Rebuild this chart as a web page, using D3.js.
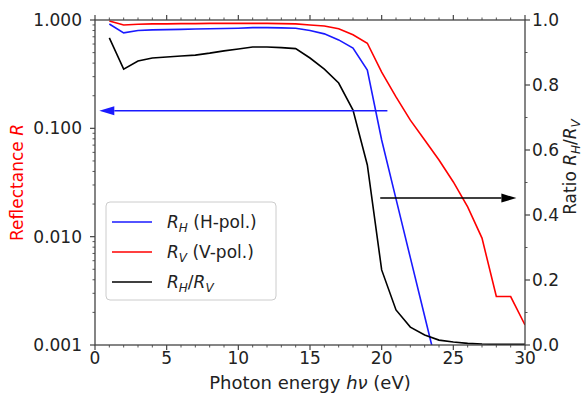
<!DOCTYPE html>
<html>
<head>
<meta charset="utf-8">
<script src="https://cdn.jsdelivr.net/npm/d3@7"></script>
<style>
  body { margin: 0; background: #fff; }
  text { font-family: "DejaVu Sans", sans-serif; }
</style>
</head>
<body>
<svg id="chart" width="584" height="394"></svg>
<script>
// photon energies (eV)
const energy = [1, 2, 3, 4, 5, 6, 7, 8, 9, 10, 11, 12, 13, 14, 15,
  16, 17, 18, 19, 20, 21, 22, 23, 24, 25, 26, 27, 28, 29, 30];

// V-polarised reflectance
const rV = [0.98, 0.90, 0.915, 0.92, 0.92, 0.925, 0.925, 0.93, 0.93, 0.93,
  0.93, 0.93, 0.925, 0.92, 0.90, 0.88, 0.83, 0.73, 0.61, 0.33,
  0.195, 0.119, 0.078, 0.051, 0.032, 0.0188, 0.0097, 0.0028, 0.0028, 0.00153];

// H-polarised reflectance (falls below the axis after 24 eV)
const rH = [0.918, 0.76, 0.80, 0.81, 0.815, 0.82, 0.825, 0.83, 0.835, 0.84,
  0.85, 0.85, 0.845, 0.84, 0.80, 0.745, 0.655, 0.55, 0.345, 0.078,
  0.0223, 0.0064, 0.00184, 0.00053, null, null, null, null, null, null];

// ratio R_H / R_V (right axis)
const ratio = [0.945, 0.849, 0.874, 0.883, 0.886, 0.889, 0.892, 0.898, 0.905, 0.911,
  0.917, 0.917, 0.915, 0.912, 0.883, 0.849, 0.806, 0.723, 0.554, 0.231,
  0.108, 0.055, 0.031, 0.015, 0.009, 0.005, 0.003, 0.002, 0.002, 0.002];

const xTicks = [0, 5, 10, 15, 20, 25, 30];
const yLeftTicks = [1, 0.1, 0.01, 0.001];
const yRightTicks = [0, 0.2, 0.4, 0.6, 0.8, 1.0];

// arrow annotations: [energy, value]
const leftArrow = { from: [20.4, 0.145], to: [0.3, 0.145] };
const rightArrow = { from: [19.9, 0.452], to: [29.4, 0.452] };

const W = 584, H = 394;
const margin = { top: 20, right: 59, bottom: 49, left: 95 };
const iw = W - margin.left - margin.right;
const ih = H - margin.top - margin.bottom;

const svg = d3.select('#chart');
const g = svg.append('g').attr('transform', `translate(${margin.left},${margin.top})`);

const x = d3.scaleLinear().domain([0, 30]).range([0, iw]);
const yL = d3.scaleLog().domain([0.001, 1]).range([ih, 0]);
const yR = d3.scaleLinear().domain([0, 1]).range([ih, 0]);

g.append('clipPath').attr('id', 'clip')
  .append('rect').attr('width', iw).attr('height', ih);

// lines
const plot = g.append('g').attr('clip-path', 'url(#clip)');
const lineL = vals => d3.line()
  .defined((d, i) => vals[i] != null)
  .x((d, i) => x(energy[i]))
  .y((d, i) => yL(vals[i]))(vals);

plot.append('path').attr('d', lineL(rV))
  .attr('fill', 'none').attr('stroke', '#ff0000').attr('stroke-width', 1.6);
plot.append('path').attr('d', lineL(rH))
  .attr('fill', 'none').attr('stroke', '#1a1aff').attr('stroke-width', 1.6);
plot.append('path')
  .attr('d', d3.line().x((d, i) => x(energy[i])).y(d => yR(d))(ratio))
  .attr('fill', 'none').attr('stroke', '#000').attr('stroke-width', 1.6);

// arrows
function arrow(a, yScale, color) {
  const x1 = x(a.from[0]), y1 = yScale(a.from[1]);
  const x2 = x(a.to[0]), y2 = yScale(a.to[1]);
  const dir = Math.sign(x2 - x1);
  const hl = 15, hw = 4.5;
  g.append('line')
    .attr('x1', x1).attr('y1', y1).attr('x2', x2 - dir * hl).attr('y2', y2)
    .attr('stroke', color).attr('stroke-width', 1.5);
  g.append('path')
    .attr('d', `M${x2},${y2}L${x2 - dir * hl},${y2 - hw}L${x2 - dir * hl},${y2 + hw}Z`)
    .attr('fill', color);
}
arrow(leftArrow, yL, '#1a1aff');
arrow(rightArrow, yR, '#000');

// axes
const axisColor = '#444';
const fs = '17px';

// frame
g.append('rect').attr('width', iw).attr('height', ih)
  .attr('fill', 'none').attr('stroke', axisColor).attr('stroke-width', 1.3);

function ticks(list, pos, len) {
  list.forEach(t => {
    const p = pos(t);
    g.append('line').attr('x1', p[0]).attr('y1', p[1]).attr('x2', p[2]).attr('y2', p[3])
      .attr('stroke', axisColor).attr('stroke-width', len);
  });
}

// x ticks bottom and top
const xMinor = energy.filter(e => e % 5 !== 0);
ticks(xTicks, t => [x(t), ih, x(t), ih + 5], 1.2);
ticks(xMinor, t => [x(t), ih, x(t), ih + 2.5], 0.9);
ticks(xTicks, t => [x(t), 0, x(t), -5], 1.2);
ticks(xMinor, t => [x(t), 0, x(t), -2.5], 0.9);

g.selectAll('.xl').data(xTicks).enter().append('text')
  .attr('x', d => x(d)).attr('y', ih + 19)
  .attr('text-anchor', 'middle').style('font-size', fs).attr('fill', '#222')
  .text(d => d);

// left log ticks
const yMinor = [];
[0.001, 0.01, 0.1].forEach(dec => {
  for (let k = 2; k <= 9; k++) yMinor.push(dec * k);
});
ticks(yLeftTicks, t => [0, yL(t), -5, yL(t)], 1.2);
ticks(yMinor, t => [0, yL(t), -2.5, yL(t)], 0.9);
g.selectAll('.yl').data(yLeftTicks).enter().append('text')
  .attr('x', -13).attr('y', d => yL(d)).attr('dy', '0.36em')
  .attr('text-anchor', 'end').style('font-size', fs).attr('fill', '#222')
  .text(d => d3.format('.3f')(d));

// right ticks
const yRMinor = [0.1, 0.3, 0.5, 0.7, 0.9];
ticks(yRightTicks, t => [iw, yR(t), iw + 5, yR(t)], 1.2);
ticks(yRMinor, t => [iw, yR(t), iw + 2.5, yR(t)], 0.9);
g.selectAll('.yr').data(yRightTicks).enter().append('text')
  .attr('x', iw + 7).attr('y', d => yR(d)).attr('dy', '0.36em')
  .attr('text-anchor', 'start').style('font-size', fs).attr('fill', '#222')
  .text(d => d3.format('.1f')(d));

// axis titles
const xt = svg.append('text')
  .attr('x', margin.left + iw / 2).attr('y', 389)
  .attr('text-anchor', 'middle').style('font-size', '18px').attr('fill', '#222');
xt.append('tspan').text('Photon energy ');
xt.append('tspan').style('font-style', 'italic').text('hν');
xt.append('tspan').text(' (eV)');

const ylt = svg.append('text')
  .attr('transform', `translate(23,${margin.top + ih / 2}) rotate(-90)`)
  .attr('text-anchor', 'middle').style('font-size', fs).attr('fill', '#ff0000');
ylt.append('tspan').text('Reflectance ');
ylt.append('tspan').style('font-style', 'italic').text('R');

const yrt = svg.append('text')
  .attr('transform', `translate(576,167) rotate(-90)`)
  .attr('text-anchor', 'middle').style('font-size', fs).attr('fill', '#222');
yrt.append('tspan').text('Ratio ');
yrt.append('tspan').style('font-style', 'italic').text('R');
yrt.append('tspan').attr('dy', 4).style('font-size', '12px').style('font-style', 'italic').text('H');
yrt.append('tspan').attr('dy', -4).text('/');
yrt.append('tspan').style('font-style', 'italic').text('R');
yrt.append('tspan').attr('dy', 4).style('font-size', '12px').style('font-style', 'italic').text('V');

// legend
const legendItems = [
  { color: '#1a1aff', sub: 'H', rest: ' (H-pol.)', ratio: false },
  { color: '#ff0000', sub: 'V', rest: ' (V-pol.)', ratio: false },
  { color: '#000', sub: 'H', rest: '', ratio: true }
];
const lg = svg.append('g').attr('transform', 'translate(106,202)');
lg.append('rect').attr('width', 170).attr('height', 98).attr('rx', 4)
  .attr('fill', 'rgba(255,255,255,0.85)').attr('stroke', '#cccccc');
legendItems.forEach((it, i) => {
  const cy = 20 + i * 30;
  lg.append('line').attr('x1', 6).attr('x2', 46).attr('y1', cy).attr('y2', cy)
    .attr('stroke', it.color).attr('stroke-width', 1.6);
  const t = lg.append('text').attr('x', 61).attr('y', cy + 6)
    .style('font-size', fs).attr('fill', '#222');
  t.append('tspan').style('font-style', 'italic').text('R');
  t.append('tspan').attr('dy', 4).style('font-size', '12px').style('font-style', 'italic').text(it.sub);
  if (it.ratio) {
    t.append('tspan').attr('dy', -4).text('/');
    t.append('tspan').style('font-style', 'italic').text('R');
    t.append('tspan').attr('dy', 4).style('font-size', '12px').style('font-style', 'italic').text('V');
  } else {
    t.append('tspan').attr('dy', -4).text(it.rest);
  }
});
</script>
</body>
</html>
